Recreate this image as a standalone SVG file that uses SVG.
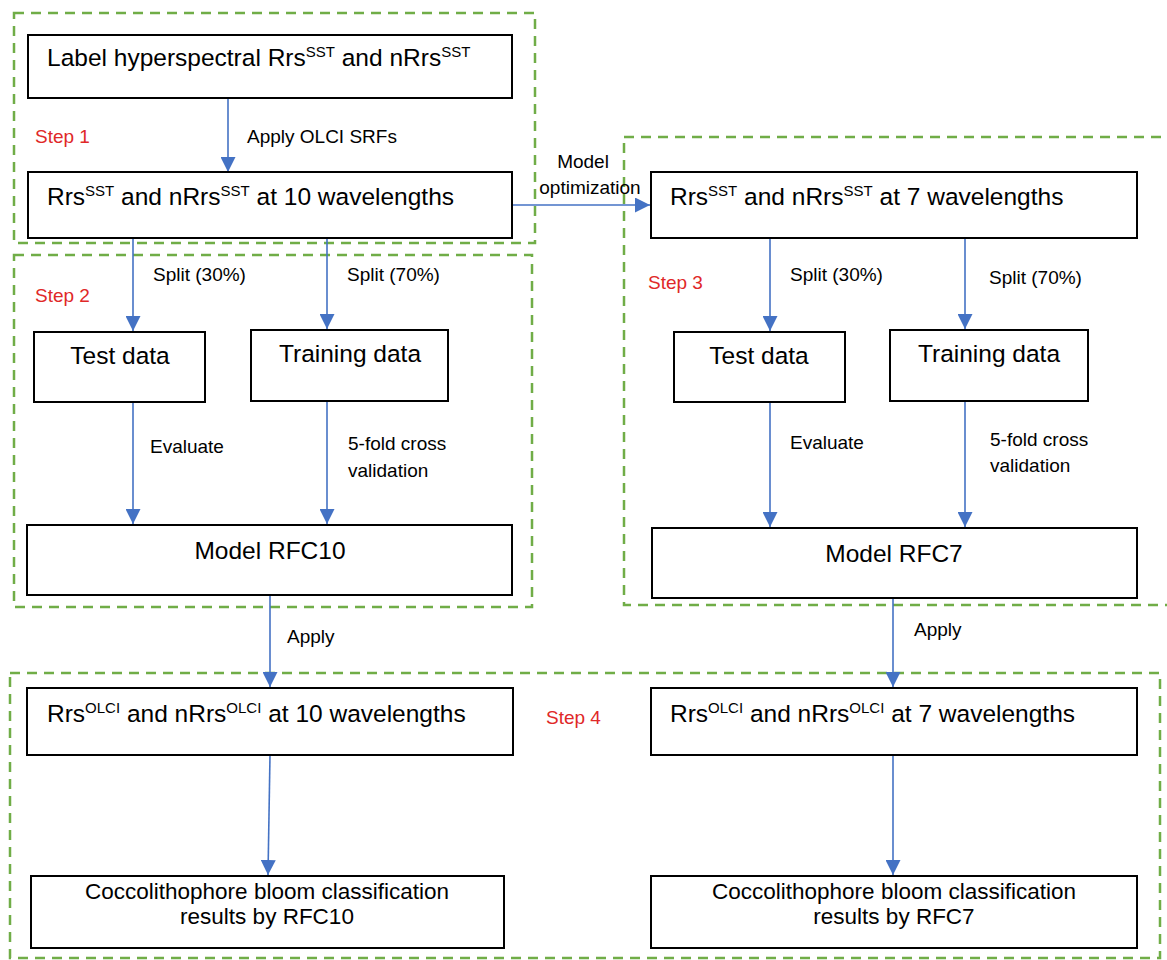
<svg xmlns="http://www.w3.org/2000/svg" width="1167" height="960" viewBox="0 0 1167 960">
<defs>
<style>
.bg{fill:#ffffff}
.grp{fill:none;stroke:#70AD47;stroke-width:2.5;stroke-dasharray:10 7}
.box{fill:#ffffff;stroke:#000000;stroke-width:2}
.main{font-family:"Liberation Sans",Arial,sans-serif;font-size:24.5px;fill:#000}
.bot{font-family:"Liberation Sans",Arial,sans-serif;font-size:22.5px;fill:#000}
.lbl{font-family:"Liberation Sans",Arial,sans-serif;font-size:19px;fill:#000}
.step{font-family:"Liberation Sans",Arial,sans-serif;font-size:19px;fill:#E02828}
.sup{font-size:15px}
.con{fill:none;stroke:#4472C4;stroke-width:1.6;marker-end:url(#ah)}
</style>
<marker id="ah" markerUnits="userSpaceOnUse" markerWidth="15" markerHeight="15" refX="15" refY="7.5" orient="auto">
<path d="M0,0 L15,7.5 L0,15 z" fill="#4472C4"/>
</marker>
</defs>
<rect class="bg" x="0" y="0" width="1167" height="960"/>

<g id="groups">
<rect id="step1-frame" class="grp" x="14" y="13" width="521" height="230"/>
<rect id="step2-frame" class="grp" x="14" y="255" width="518" height="352"/>
<rect id="step3-frame" class="grp" x="624" y="137" width="560" height="468"/>
<rect id="step4-frame" class="grp" x="10" y="673" width="1150" height="285"/>
</g>

<g id="connectors">
<line class="con" x1="228" y1="98" x2="228" y2="172"/>
<line class="con" x1="512" y1="205" x2="650" y2="205"/>
<line class="con" x1="133" y1="238" x2="133" y2="331"/>
<line class="con" x1="327" y1="238" x2="327" y2="329"/>
<line class="con" x1="133" y1="402" x2="133" y2="524"/>
<line class="con" x1="327" y1="401" x2="327" y2="524"/>
<line class="con" x1="270" y1="595" x2="270" y2="687"/>
<line class="con" x1="270" y1="755" x2="268" y2="875"/>
<line class="con" x1="770" y1="238" x2="770" y2="331"/>
<line class="con" x1="965" y1="238" x2="965" y2="329"/>
<line class="con" x1="770" y1="402" x2="770" y2="527"/>
<line class="con" x1="965" y1="401" x2="965" y2="527"/>
<line class="con" x1="893" y1="598" x2="893" y2="687"/>
<line class="con" x1="893" y1="755" x2="893" y2="875"/>
</g>

<g id="labels">
<text class="lbl" x="247" y="143">Apply OLCI SRFs</text>
<text class="lbl" x="583" y="168" text-anchor="middle">Model</text>
<text class="lbl" x="590" y="194" text-anchor="middle">optimization</text>
<text class="lbl" x="153" y="281">Split (30%)</text>
<text class="lbl" x="347" y="281">Split (70%)</text>
<text class="lbl" x="150" y="453">Evaluate</text>
<text class="lbl" x="348" y="450">5-fold cross</text>
<text class="lbl" x="348" y="477">validation</text>
<text class="lbl" x="287" y="643">Apply</text>
<text class="lbl" x="790" y="281">Split (30%)</text>
<text class="lbl" x="989" y="284">Split (70%)</text>
<text class="lbl" x="790" y="449">Evaluate</text>
<text class="lbl" x="990" y="446">5-fold cross</text>
<text class="lbl" x="990" y="472">validation</text>
<text class="lbl" x="914" y="636">Apply</text>
<text class="step" x="35" y="143">Step 1</text>
<text class="step" x="35" y="302">Step 2</text>
<text class="step" x="648" y="289">Step 3</text>
<text class="step" x="546" y="724">Step 4</text>
</g>

<g id="node-label-hyper">
<rect class="box" x="28" y="35" width="484" height="63"/>
<text class="main" x="47" y="66">Label hyperspectral Rrs<tspan class="sup" dy="-9">SST</tspan><tspan dy="9"> and nRrs</tspan><tspan class="sup" dy="-9">SST</tspan></text>
</g>

<g id="node-rrs-sst-10">
<rect class="box" x="28" y="172" width="484" height="66"/>
<text class="main" x="47" y="205">Rrs<tspan class="sup" dy="-9">SST</tspan><tspan dy="9"> and nRrs</tspan><tspan class="sup" dy="-9">SST</tspan><tspan dy="9"> at 10 wavelengths</tspan></text>
</g>

<g id="node-test-10">
<rect class="box" x="34" y="332" width="171" height="70"/>
<text class="main" x="120" y="364" text-anchor="middle">Test data</text>
</g>

<g id="node-train-10">
<rect class="box" x="251" y="330" width="197" height="71"/>
<text class="main" x="350" y="362" text-anchor="middle">Training data</text>
</g>

<g id="node-rfc10">
<rect class="box" x="27" y="525" width="485" height="70"/>
<text class="main" x="270" y="559" text-anchor="middle">Model RFC10</text>
</g>

<g id="node-rrs-sst-7">
<rect class="box" x="651" y="172" width="486" height="66"/>
<text class="main" x="670" y="205">Rrs<tspan class="sup" dy="-9">SST</tspan><tspan dy="9"> and nRrs</tspan><tspan class="sup" dy="-9">SST</tspan><tspan dy="9"> at 7 wavelengths</tspan></text>
</g>

<g id="node-test-7">
<rect class="box" x="674" y="332" width="171" height="70"/>
<text class="main" x="759" y="364" text-anchor="middle">Test data</text>
</g>

<g id="node-train-7">
<rect class="box" x="890" y="330" width="198" height="71"/>
<text class="main" x="989" y="362" text-anchor="middle">Training data</text>
</g>

<g id="node-rfc7">
<rect class="box" x="652" y="528" width="485" height="70"/>
<text class="main" x="894" y="562" text-anchor="middle">Model RFC7</text>
</g>

<g id="node-olci-10">
<rect class="box" x="27" y="688" width="486" height="67"/>
<text class="main" x="47" y="722">Rrs<tspan class="sup" dy="-9">OLCI</tspan><tspan dy="9"> and nRrs</tspan><tspan class="sup" dy="-9">OLCI</tspan><tspan dy="9"> at 10 wavelengths</tspan></text>
</g>

<g id="node-olci-7">
<rect class="box" x="651" y="688" width="486" height="67"/>
<text class="main" x="670" y="722">Rrs<tspan class="sup" dy="-9">OLCI</tspan><tspan dy="9"> and nRrs</tspan><tspan class="sup" dy="-9">OLCI</tspan><tspan dy="9"> at 7 wavelengths</tspan></text>
</g>

<g id="node-result-10">
<rect class="box" x="31" y="876" width="473" height="72"/>
<text class="bot" x="267" y="899" text-anchor="middle">Coccolithophore bloom classification</text>
<text class="bot" x="267" y="924" text-anchor="middle">results by RFC10</text>
</g>

<g id="node-result-7">
<rect class="box" x="651" y="876" width="486" height="72"/>
<text class="bot" x="894" y="899" text-anchor="middle">Coccolithophore bloom classification</text>
<text class="bot" x="894" y="924" text-anchor="middle">results by RFC7</text>
</g>
</svg>
